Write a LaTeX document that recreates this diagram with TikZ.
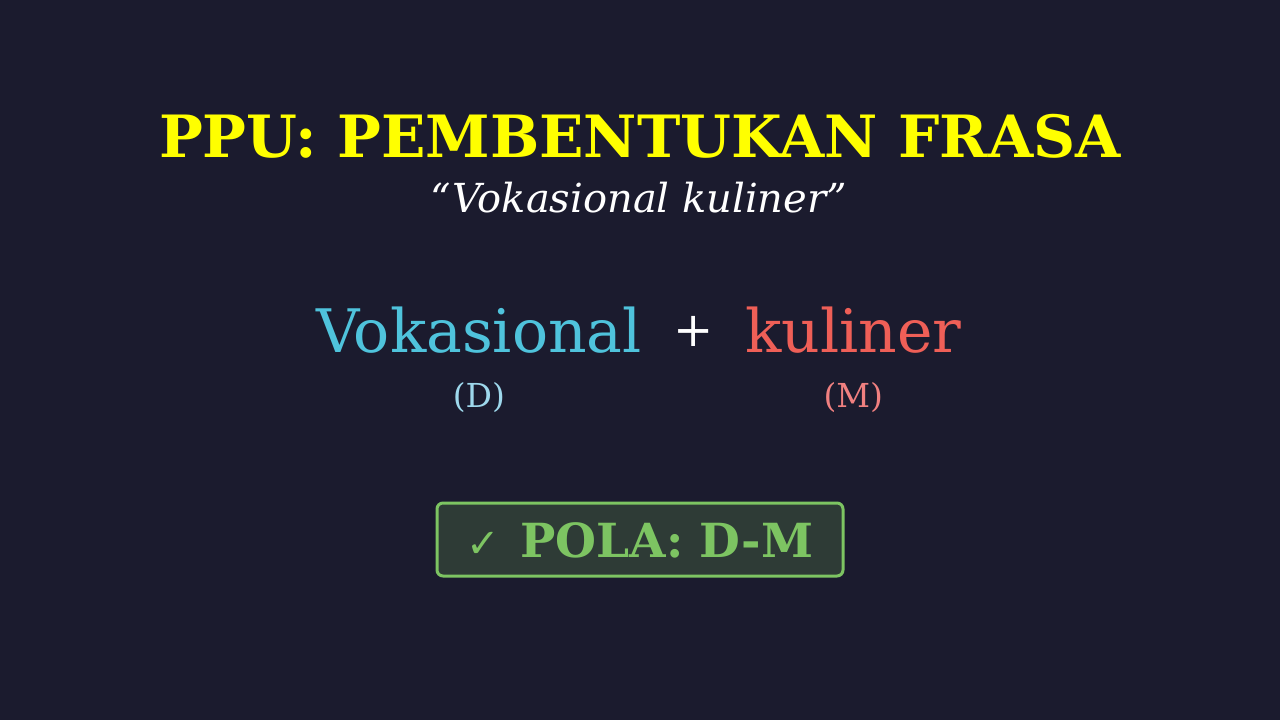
\documentclass[tikz,border=0pt]{standalone}
\usepackage{fontspec}
\setmainfont{DejaVu Serif}
\newfontfamily\checkfont{DejaVu Sans}
\usetikzlibrary{positioning}
\definecolor{bgdark}{HTML}{1B1B2E}
\definecolor{titleyellow}{HTML}{FFFF00}
\definecolor{wordblue}{HTML}{4FC3DC}
\definecolor{wordred}{HTML}{EF5F57}
\definecolor{tagblue}{HTML}{9ED8EC}
\definecolor{tagred}{HTML}{F08080}
\definecolor{okgreen}{HTML}{7DC462}
\definecolor{okfill}{HTML}{2E3B36}
\tikzset{
x=1pt, y=-1pt, % pixel coordinates, y grows downwards
txt/.style={inner sep=0pt, anchor=base}, % text set on its baseline
word/.style={txt, font=\fontsize{60}{60}\selectfont}, % the two words of the phrase
tag/.style={txt, font=\fontsize{33}{33}\selectfont}, % the (D) and (M) labels
okbox/.style={draw=okgreen, line width=3pt, fill=okfill, rounded corners=6pt},
}
\begin{document}
\begin{tikzpicture}
        \fill[bgdark] (0,0) rectangle (1280,720);
        \useasboundingbox (0,0) rectangle (1280,720);

        \node[txt, text=titleyellow, font=\fontsize{58.3}{60}\selectfont\bfseries] (title) at (640,157) {PPU: PEMBENTUKAN FRASA};
        \node[txt, text=white, font=\fontsize{40}{40}\selectfont\itshape] (sub) at (639,212) {“Vokasional kuliner”};

        \node[txt, text=white, font=\fontsize{48}{48}\selectfont] (plus) at (694,346) {+};
        \node[word, text=wordblue, anchor=base east] (vok) at (642,352) {Vokasional};
        \node[word, text=wordred, anchor=base west] (kul) at (745,352) {kuliner};

        \node[tag, text=tagblue] (d) at (vok.base |- 0,407) {(D)};
        \node[tag, text=tagred] (m) at (kul.base |- 0,407) {(M)};

        \draw[okbox] (437,503) rectangle (843,576);
        \node[txt, text=okgreen, font=\fontsize{47}{47}\selectfont\bfseries] (pola) at (640,557) {{\checkfont\mdseries\fontsize{40}{40}\selectfont ✓}\hspace{20pt}POLA: D-M};
    \end{tikzpicture}
\end{document}
